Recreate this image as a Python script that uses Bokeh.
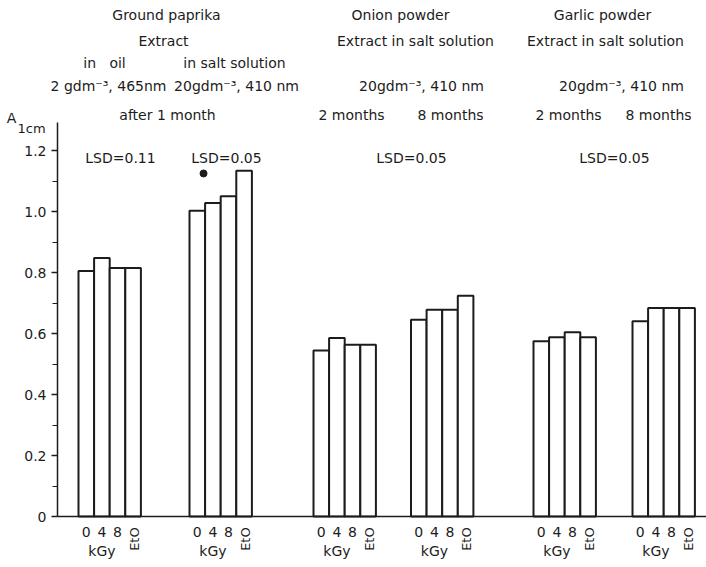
import math

from bokeh.embed import file_html
from bokeh.models import (ColumnDataSource, CustomJSTickFormatter, FixedTicker,
                          Label, LinearAxis, Range1d)
from bokeh.plotting import figure
from bokeh.resources import INLINE

# Absorbance A(1 cm) of the extracts: 0, 4, 8 kGy and EtO-treated samples
dose_labels = ["0", "4", "8"]
treated_label = "EtO"
paprika_oil = [0.805, 0.848, 0.815, 0.815]
paprika_salt = [1.003, 1.028, 1.050, 1.134]
onion_2m = [0.544, 0.585, 0.563, 0.563]
onion_8m = [0.645, 0.678, 0.678, 0.724]
garlic_2m = [0.575, 0.588, 0.604, 0.588]
garlic_8m = [0.640, 0.684, 0.684, 0.684]
series = [paprika_oil, paprika_salt, onion_2m, onion_8m, garlic_2m, garlic_8m]

# single marked point above the paprika salt-solution group
marked_value = 1.125

lsd_labels = ["LSD=0.11", "LSD=0.05", "LSD=0.05", "LSD=0.05"]

y_ticks = [0, 0.2, 0.4, 0.6, 0.8, 1.0, 1.2]
y_minor = [0.1, 0.3, 0.5, 0.7, 0.9, 1.1]
y_tick_labels = ["0", "0.2", "0.4", "0.6", "0.8", "1.0", "1.2"]

# ---- layout -------------------------------------------------------------
FONT = "DejaVu Sans"
INK = "#1c1c1c"
group_start = [21, 132, 256, 353.5, 476, 575]   # left edge of each group (x units)
bar_w = 15.6
X_END = 649          # right end of the baseline
Y_AXIS_TOP = 1.292   # top end of the absorbance axis line

xs, tops = [], []
for start, vals in zip(group_start, series):
    for i, v in enumerate(vals):
        xs.append(start + (i + 0.5) * bar_w)
        tops.append(v)

# the frame spans the whole canvas so that headers and unit labels sit inside it
p = figure(width=706, height=567,
           x_range=Range1d(-57, X_END), y_range=Range1d(-0.1672, 1.6921),
           x_axis_type=None, y_axis_type=None,
           output_backend="svg", toolbar_location=None, min_border=0)
p.outline_line_color = None
p.background_fill_color = "white"
p.border_fill_color = "white"
p.xgrid.visible = False
p.ygrid.visible = False

src = ColumnDataSource(dict(x=xs, top=tops))
p.vbar(x="x", top="top", bottom=0, width=bar_w, source=src,
       fill_color="white", line_color=INK, line_width=2)

p.scatter(x=[group_start[1] + 0.9 * bar_w], y=[marked_value],
          size=7, color=INK, marker="circle")

# absorbance axis
yaxis = LinearAxis(
    fixed_location=0, bounds=(0, Y_AXIS_TOP),
    ticker=FixedTicker(ticks=y_ticks, minor_ticks=y_minor),
    formatter=CustomJSTickFormatter(args=dict(labs=y_tick_labels),
                                    code="return labs[index];"),
    axis_line_color=INK, axis_line_width=1.5,
    major_tick_line_color=INK, major_tick_line_width=1.5,
    major_tick_out=6, major_tick_in=0,
    minor_tick_line_color=INK, minor_tick_line_width=1.2,
    minor_tick_out=5, minor_tick_in=0,
    major_label_standoff=5,
    major_label_text_font=FONT, major_label_text_font_size="14px",
    major_label_text_color=INK,
)
p.add_layout(yaxis, "left")

# baseline with dose labels under the first three bars of every group
dose_ticks = [start + (i + 0.5) * bar_w for start in group_start for i in range(3)]
xaxis = LinearAxis(
    fixed_location=0, bounds=(0, X_END),
    ticker=FixedTicker(ticks=dose_ticks, minor_ticks=[]),
    formatter=CustomJSTickFormatter(args=dict(labs=dose_labels),
                                    code="return labs[index % labs.length];"),
    axis_line_color=INK, axis_line_width=1.5,
    major_tick_out=0, major_tick_in=0, minor_tick_out=0, minor_tick_in=0,
    major_label_standoff=10,
    major_label_text_font=FONT, major_label_text_font_size="14px",
    major_label_text_color=INK,
)
p.add_layout(xaxis, "below")


def add_text(text, x, y, size="14px", angle=0.0, align="center"):
    p.add_layout(Label(x=x, y=y, text=text, angle=angle,
                       text_font=FONT, text_font_size=size,
                       text_color=INK, text_align=align,
                       text_baseline="middle"))


# unit names and treatment under every group
for start in group_start:
    add_text("kGy", start + 1.5 * bar_w, -0.112)
    add_text(treated_label, start + 3.5 * bar_w + 1, -0.074, size="13px",
             angle=math.pi / 2)

# LSD values above the panels
for text, x in zip(lsd_labels, [63, 169, 354, 557]):
    add_text(text, x, 1.174)

# header rows
headers = [
    ("Ground paprika", 109, 1.646), ("Onion powder", 343, 1.646),
    ("Garlic powder", 545, 1.646),
    ("Extract", 106, 1.558), ("Extract in salt solution", 358, 1.558),
    ("Extract in salt solution", 548, 1.558),
    ("in\u00a0\u00a0\u00a0oil", 47, 1.486), ("in salt solution", 177, 1.486),
    ("2 gdm\u207b\u00b3, 465nm", 51, 1.413), ("20gdm\u207b\u00b3, 410 nm", 179, 1.413),
    ("20gdm\u207b\u00b3, 410 nm", 364, 1.413), ("20gdm\u207b\u00b3, 410 nm", 564, 1.413),
    ("after 1 month", 110, 1.315), ("2 months", 294, 1.315),
    ("8 months", 393, 1.315), ("2 months", 511, 1.315), ("8 months", 601, 1.315),
]
for text, x, y in headers:
    add_text(text, x, y)

# axis title A with subscript 1cm
add_text("A", -46, 1.308)
add_text("1cm", -40, 1.272, size="13px", align="left")

open("out.html", "w").write(file_html(p, INLINE))
